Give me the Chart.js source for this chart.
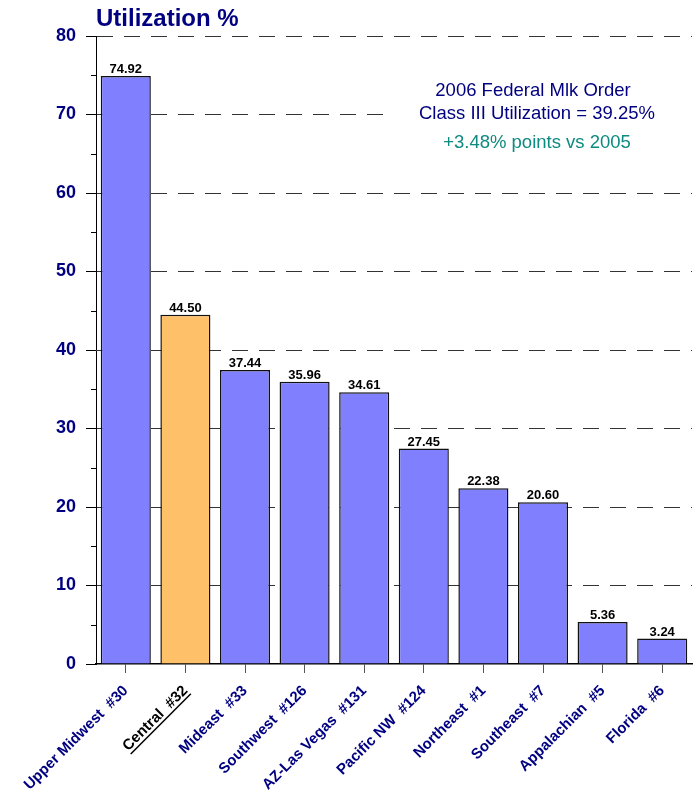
<!DOCTYPE html>
<html>
<head>
<meta charset="utf-8">
<script src="https://cdn.jsdelivr.net/npm/chart.js@4.4.1/dist/chart.umd.min.js"></script>
<style>
  html, body { margin: 0; padding: 0; background: #fff; }
</style>
</head>
<body>
<canvas id="chart" width="698" height="793"></canvas>
<script>
// Federal order regions and 2006 Class III utilization (%)
const regions = ['Upper Midwest  #30', 'Central  #32', 'Mideast  #33', 'Southwest  #126', 'AZ-Las Vegas  #131',
  'Pacific NW  #124', 'Northeast  #1', 'Southeast  #7', 'Appalachian  #5', 'Florida  #6'];
const utilization = [74.92, 44.50, 37.44, 35.96, 34.61, 27.45, 22.38, 20.60, 5.36, 3.24];
const highlighted = 'Central  #32';

const yMax = 80;
const yStep = 10;
const chartTitle = 'Utilization %';
const noteLines = ['2006 Federal Mlk Order', 'Class III Utilization = 39.25%'];
const noteChange = '+3.48% points vs 2005';

const FONT = '"Liberation Sans", Arial, sans-serif';
const NAVY = '#000080';
const TEAL = '#0e8a80';
const BLUE = '#8080ff';
const ORANGE = '#ffc06a';

const barColors = regions.map(r => r === highlighted ? ORANGE : BLUE);

// extra drawing: value labels, minor ticks, title, note text, underline
const decorations = {
  id: 'decorations',
  afterDraw(chart) {
    const ctx = chart.ctx;
    const area = chart.chartArea;
    const y = chart.scales.y;
    const x = chart.scales.x;
    ctx.save();

    // minor y ticks
    ctx.strokeStyle = '#000';
    ctx.lineWidth = 1;
    for (let v = yStep / 2; v < yMax; v += yStep) {
      const py = Math.round(y.getPixelForValue(v)) + 0.5;
      ctx.beginPath();
      ctx.moveTo(area.left - 5, py);
      ctx.lineTo(area.left, py);
      ctx.stroke();
    }

    // value labels above bars
    ctx.font = 'bold 13px ' + FONT;
    ctx.fillStyle = '#000';
    ctx.textAlign = 'center';
    ctx.textBaseline = 'alphabetic';
    chart.getDatasetMeta(0).data.forEach((bar, i) => {
      ctx.fillText(utilization[i].toFixed(2), bar.x, bar.y - 3);
    });

    // title
    ctx.font = 'bold 24px ' + FONT;
    ctx.fillStyle = NAVY;
    ctx.textAlign = 'left';
    ctx.fillText(chartTitle, 96, 26);

    // note text on a white box (hides grid lines behind it)
    ctx.fillStyle = '#fff';
    ctx.fillRect(386, 50, area.right - 386, 118);
    ctx.font = '18.5px ' + FONT;
    ctx.textAlign = 'center';
    ctx.fillStyle = NAVY;
    ctx.fillText(noteLines[0], 533, 96);
    ctx.fillText(noteLines[1], 537, 119);
    ctx.fillStyle = TEAL;
    ctx.fillText(noteChange, 537, 148);

    // underline the highlighted category label
    if (x.getLabelItems) {
      const item = x.getLabelItems()[regions.indexOf(highlighted)];
      if (item) {
        const [tx, ty] = item.options.translation;
        ctx.translate(tx, ty);
        ctx.rotate(item.options.rotation);
        ctx.font = item.font.string;
        const w = ctx.measureText(item.label).width;
        const uy = item.textOffset + item.font.size * 0.38 + 2;
        ctx.strokeStyle = '#000';
        ctx.lineWidth = 1.5;
        ctx.beginPath();
        ctx.moveTo(-w, uy);
        ctx.lineTo(0, uy);
        ctx.stroke();
      }
    }
    ctx.restore();
  }
};

new Chart(document.getElementById('chart'), {
  type: 'bar',
  data: {
    labels: regions,
    datasets: [{
      data: utilization,
      backgroundColor: barColors,
      borderColor: '#111',
      borderWidth: 1.5,
      barPercentage: 0.84,
      categoryPercentage: 1
    }]
  },
  options: {
    responsive: false,
    animation: false,
    devicePixelRatio: 1,
    layout: { padding: { top: 36, right: 6, left: 0, bottom: 0 } },
    plugins: {
      legend: { display: false },
      tooltip: { enabled: false },
      title: { display: false }
    },
    scales: {
      x: {
        offset: true,
        grid: { drawOnChartArea: false, drawTicks: true, tickLength: 9, tickColor: '#555', offset: false },
        border: { color: '#000', width: 1.5 },
        ticks: {
          minRotation: 45,
          maxRotation: 45,
          autoSkip: false,
          padding: 9,
          font: { family: FONT, size: 15, weight: 'bold' },
          color: c => regions[c.index] === highlighted ? '#000' : NAVY
        },
        afterFit: s => { s.height = 129; s.paddingLeft = 0; s.paddingRight = 0; }
      },
      y: {
        min: 0,
        max: yMax,
        ticks: {
          stepSize: yStep,
          padding: 10,
          font: { family: FONT, size: 18, weight: 'bold' },
          color: NAVY
        },
        grid: {
          color: c => c.tick && c.tick.value === 0 ? 'rgba(0,0,0,0)' : '#333',
          tickColor: '#000',
          tickLength: 10,
          lineWidth: 1
        },
        border: { color: '#000', width: 1, dash: [16, 11] },
        afterFit: s => { s.width = 96; }
      }
    }
  },
  plugins: [decorations]
});
</script>
</body>
</html>
